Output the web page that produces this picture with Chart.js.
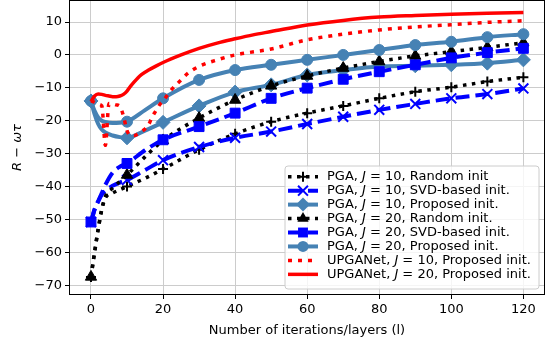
<!DOCTYPE html>
<html>
<head>
<meta charset="utf-8">
<script src="https://cdn.jsdelivr.net/npm/chart.js@4/dist/chart.umd.min.js"></script>
<style>
  html, body { margin: 0; padding: 0; background: #fff; }
  #wrap { width: 550px; height: 340px; }
</style>
</head>
<body>
<div id="wrap"><canvas id="chart" width="550" height="340"></canvas></div>
<script>
// iterations (x) for the PGA curves, markers every 10
const pgaIters = [0, 1, 2, 3, 4, 6, 8, 10, 15, 20, 30, 40, 50, 60, 70, 80, 90, 100, 110, 120];
const pgaJ10Random = [-67.5, -60, -53, -47, -43.5, -42, -41, -40, -37.5, -34.7, -28.8, -24, -20.3, -17.7, -15.5, -13.2, -11.2, -9.8, -8.1, -6.8];
const pgaJ10Svd = [-50.8, -47, -44.5, -42.5, -41.2, -39.8, -38.8, -38, -35, -32, -28, -25.2, -23.3, -21, -18.8, -16.7, -14.9, -13.2, -11.9, -10.2];
const pgaJ10Prop = [-14, -18, -21, -22.7, -23.6, -24.5, -25, -25.2, -23, -20.5, -15.5, -11.3, -9.1, -6.1, -4.6, -3.5, -3.3, -3, -2.5, -1.5];
const pgaJ20Random = [-67.5, -60, -53, -47, -43, -40.5, -38.5, -36.5, -31, -26, -19.2, -13.7, -9.4, -6.4, -4, -2, -0.3, 1, 2.3, 3.7];
const pgaJ20Svd = [-50.8, -47, -44.5, -42, -39.5, -35.8, -34, -33, -29, -25.8, -21.8, -17.7, -13.2, -10.1, -7.4, -5.1, -3, -0.9, 0.7, 2];
const pgaJ20Prop = [-14, -17, -19, -20, -20.4, -20.7, -20.6, -20.3, -16.8, -13.2, -7.6, -4.6, -3, -1.5, 0, 1.5, 3, 4, 5.4, 6.3];

// UPGANet layers
const upgaJ10Layers = [0, 1, 2, 3, 4, 5, 6, 7, 8, 9, 10, 11, 12, 13, 14, 15, 16, 17, 18, 19, 20, 22, 25, 27, 30, 35, 40, 50, 60, 70, 80, 90, 100, 110, 120];
const upgaJ10 = [-14, -14.4, -15, -15.5, -27.5, -14.8, -14.9, -15.2, -15.6, -18.5, -23, -24.5, -24.5, -24, -23.3, -22.5, -21.2, -18.8, -17, -15.2, -14, -11, -7.6, -5.5, -3.5, -1.5, 0, 1.8, 4.6, 6.3, 7.6, 8.5, 9.2, 9.9, 10.4];
const upgaJ20Layers = [0, 1, 2, 3, 4, 5, 6, 7, 8, 9, 10, 11, 12, 13, 14, 16, 18, 20, 25, 30, 35, 40, 45, 50, 60, 70, 80, 90, 100, 110, 120];
const upgaJ20 = [-14.2, -12.5, -11.9, -12, -12.3, -12.5, -12.7, -12.7, -12.5, -12, -11, -9.5, -8.2, -7, -6, -4.6, -3.4, -2.3, 0, 2, 3.6, 4.9, 6.1, 7.1, 9.1, 10.5, 11.5, 12, 12.4, 12.7, 12.9];

const xTicks = [0, 20, 40, 60, 80, 100, 120];
const yTicks = [-70, -60, -50, -40, -30, -20, -10, 0, 10];

const FONT = 'DejaVu Sans';
const FS = 13;
const STEEL = '#4682b4';
const BLUE = '#0000ff';
const RED = '#ff0000';
const BLACK = '#000000';

function pts(xs, ys) {
    return xs.map((x, i) => ({ x: x, y: ys[i] }));
}

function every10(r) {
    return ctx => (ctx.raw && ctx.raw.x % 10 === 0) ? r : 0;
}

function pgaSet(label, ys, color, dash, width, marker, r, mw) {
    return {
        label: label,
        data: pts(pgaIters, ys),
        borderColor: color,
        backgroundColor: color,
        borderWidth: width,
        borderDash: dash,
        pointStyle: marker,
        pointRadius: every10(r),
        pointBackgroundColor: color,
        pointBorderColor: color,
        pointBorderWidth: mw,
        cubicInterpolationMode: 'monotone',
        // legend info
        mk: marker, mr: r
    };
}

const DOT = [3.5, 5.5];
const DASH = [14, 6];

const datasets = [
    Object.assign(pgaSet('Random init', pgaJ10Random, BLACK, DOT, 3.5, 'cross', 5, 2), { J: 10, algo: 'PGA' }),
    Object.assign(pgaSet('SVD-based init.', pgaJ10Svd, BLUE, DASH, 4, 'crossRot', 7, 2), { J: 10, algo: 'PGA' }),
    Object.assign(pgaSet('Proposed init.', pgaJ10Prop, STEEL, [], 4, 'rectRot', 7, 1), { J: 10, algo: 'PGA' }),
    Object.assign(pgaSet('Random init.', pgaJ20Random, BLACK, DOT, 3.5, 'triangle', 6.5, 1), { J: 20, algo: 'PGA' }),
    Object.assign(pgaSet('SVD-based init.', pgaJ20Svd, BLUE, DASH, 4, 'rect', 7, 1), { J: 20, algo: 'PGA' }),
    Object.assign(pgaSet('Proposed init.', pgaJ20Prop, STEEL, [], 4, 'circle', 5.5, 1), { J: 20, algo: 'PGA' }),
    {
        label: 'Proposed init.', J: 10, algo: 'UPGANet',
        data: pts(upgaJ10Layers, upgaJ10),
        borderColor: RED, borderWidth: 3.5, borderDash: [4, 6],
        pointRadius: 0, cubicInterpolationMode: 'monotone', mk: null
    },
    {
        label: 'Proposed init.', J: 20, algo: 'UPGANet',
        data: pts(upgaJ20Layers, upgaJ20),
        borderColor: RED, borderWidth: 3.5, borderDash: [],
        pointRadius: 0, cubicInterpolationMode: 'monotone', mk: null
    }
];
// later series on top, like matplotlib
datasets.forEach((d, i) => { d.order = datasets.length - i; });

function drawMarker(ctx, style, x, y, r, color) {
    ctx.save();
    ctx.fillStyle = color;
    ctx.strokeStyle = color;
    ctx.setLineDash([]);
    ctx.beginPath();
    if (style === 'circle') {
        ctx.arc(x, y, r, 0, Math.PI * 2);
        ctx.fill();
    } else if (style === 'rect') {
        const s = r * Math.SQRT1_2;
        ctx.fillRect(x - s, y - s, 2 * s, 2 * s);
    } else if (style === 'rectRot') {
        ctx.moveTo(x, y - r); ctx.lineTo(x + r, y); ctx.lineTo(x, y + r); ctx.lineTo(x - r, y);
        ctx.closePath(); ctx.fill();
    } else if (style === 'triangle') {
        ctx.moveTo(x, y - r); ctx.lineTo(x + 0.866 * r, y + 0.5 * r); ctx.lineTo(x - 0.866 * r, y + 0.5 * r);
        ctx.closePath(); ctx.fill();
    } else if (style === 'cross') {
        ctx.lineWidth = 2;
        ctx.moveTo(x - r, y); ctx.lineTo(x + r, y); ctx.moveTo(x, y - r); ctx.lineTo(x, y + r);
        ctx.stroke();
    } else if (style === 'crossRot') {
        const o = r * Math.SQRT1_2;
        ctx.lineWidth = 2;
        ctx.moveTo(x - o, y - o); ctx.lineTo(x + o, y + o); ctx.moveTo(x + o, y - o); ctx.lineTo(x - o, y + o);
        ctx.stroke();
    }
    ctx.restore();
}

// frame + legend drawn inside the plot, lower right
const frameAndLegend = {
    id: 'frameAndLegend',
    afterDatasetsDraw(chart) {
        const ctx = chart.ctx;
        const a = chart.chartArea;
        ctx.save();
        ctx.strokeStyle = '#000';
        ctx.lineWidth = 1;
        ctx.strokeRect(Math.round(a.left) + 0.5, Math.round(a.top) + 0.5, Math.round(a.right - a.left) - 1, Math.round(a.bottom - a.top) - 1);

        // legend box
        const bx = 285, by = 166, bw = 254, bh = 123, rad = 3;
        ctx.beginPath();
        ctx.moveTo(bx + rad, by);
        ctx.arcTo(bx + bw, by, bx + bw, by + bh, rad);
        ctx.arcTo(bx + bw, by + bh, bx, by + bh, rad);
        ctx.arcTo(bx, by + bh, bx, by, rad);
        ctx.arcTo(bx, by, bx + bw, by, rad);
        ctx.closePath();
        ctx.fillStyle = 'rgba(255,255,255,0.8)';
        ctx.fill();
        ctx.strokeStyle = '#cccccc';
        ctx.lineWidth = 1;
        ctx.stroke();

        const normal = FS + 'px "' + FONT + '"';
        const italic = 'italic ' + FS + 'px "' + FONT + '"';
        ctx.textBaseline = 'middle';
        chart.data.datasets.forEach((d, i) => {
            const yy = 176.7 + i * 13.95;
            ctx.save();
            ctx.strokeStyle = d.borderColor;
            ctx.lineWidth = d.borderWidth;
            ctx.setLineDash(d.borderDash || []);
            ctx.beginPath();
            ctx.moveTo(288, yy);
            ctx.lineTo(318, yy);
            ctx.stroke();
            ctx.restore();
            if (d.mk) drawMarker(ctx, d.mk, 303, yy, d.mr, d.borderColor);

            let tx = 327;
            ctx.fillStyle = '#000';
            ctx.font = normal;
            const p1 = d.algo + ', ';
            ctx.fillText(p1, tx, yy); tx += ctx.measureText(p1).width;
            ctx.font = italic;
            ctx.fillText('J', tx, yy); tx += ctx.measureText('J').width;
            ctx.font = normal;
            ctx.fillText(' = ' + d.J + ', ' + d.label, tx, yy);
        });
        ctx.restore();
    }
};

const fmt = v => v < 0 ? '\u2212' + Math.abs(v) : String(v);

new Chart(document.getElementById('chart'), {
    type: 'line',
    data: { datasets: datasets },
    options: {
        responsive: false,
        animation: false,
        devicePixelRatio: 1,
        layout: { autoPadding: false, padding: { top: 0, right: 5, left: 0, bottom: 0 } },
        plugins: {
            legend: { display: false },
            tooltip: { enabled: false }
        },
        scales: {
            x: {
                type: 'linear',
                min: -6.1,
                max: 126,
                afterBuildTicks: s => { s.ticks = xTicks.map(v => ({ value: v })); },
                afterFit: s => { s.height = 45; s.paddingLeft = 0; s.paddingRight = 0; },
                grid: { color: '#cccccc', lineWidth: 1, tickColor: '#000', tickLength: 4 },
                border: { display: false },
                ticks: { color: '#000', font: { family: FONT, size: FS }, padding: 3, maxRotation: 0, callback: fmt },
                title: { display: true, text: 'Number of iterations/layers (l)', color: '#000', font: { family: FONT, size: FS }, padding: { top: 0, bottom: 2 } }
            },
            y: {
                min: -73,
                max: 16.7,
                afterBuildTicks: s => { s.ticks = yTicks.map(v => ({ value: v })); },
                afterFit: s => { s.width = 69; s.paddingTop = 0; s.paddingBottom = 0; },
                grid: { color: '#cccccc', lineWidth: 1, tickColor: '#000', tickLength: 4 },
                border: { display: false },
                ticks: { color: '#000', font: { family: FONT, size: FS }, padding: 3, callback: fmt },
                title: { display: true, text: 'R \u2212 \u03c9\u03c4', color: '#000', font: { family: FONT, size: FS, style: 'italic' }, padding: { top: 10, bottom: 0 } }
            }
        }
    },
    plugins: [frameAndLegend]
});
</script>
</body>
</html>
